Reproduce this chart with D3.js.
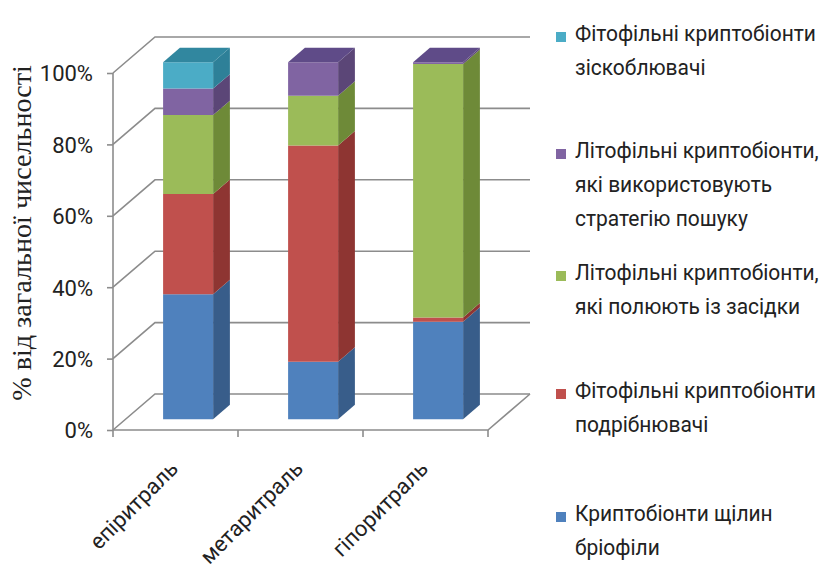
<!DOCTYPE html>
<html>
<head>
<meta charset="utf-8">
<script src="https://cdn.jsdelivr.net/npm/d3@7"></script>
<style>
  html, body { margin: 0; padding: 0; background: #fff; }
  svg { display: block; }
  .axis-title { font-family: "Liberation Serif", "DejaVu Serif", "Noto Serif", "Times New Roman", serif; }
</style>
</head>
<body>
<svg id="chart" width="834" height="574"></svg>
<script>
// Zones of the stream and share of each cryptobiont group (% of total abundance)
const categories = ["епіритраль", "метаритраль", "гіпоритраль"];
const bryophiles = [35.0, 16.1, 27.3];   // Криптобіонти щілин бріофіли
const shredders  = [28.1, 60.6, 1.2];    // Фітофільні криптобіонти подрібнювачі
const ambush     = [22.1, 13.9, 71.0];   // Літофільні криптобіонти, які полюють із засідки
const searching  = [7.4, 9.4, 0.5];      // Літофільні криптобіонти, які використовують стратегію пошуку
const scrapers   = [7.4, 0.0, 0.0];      // Фітофільні криптобіонти зіскоблювачі
const yTicks = [0, 20, 40, 60, 80, 100];

const seriesLabels = [
  ["Криптобіонти щілин", "бріофіли"],
  ["Фітофільні криптобіонти", "подрібнювачі"],
  ["Літофільні криптобіонти,", "які полюють із засідки"],
  ["Літофільні криптобіонти,", "які використовують", "стратегію пошуку"],
  ["Фітофільні криптобіонти", "зіскоблювачі"]
];
const seriesValues = [bryophiles, shredders, ambush, searching, scrapers];
const palette = [
  { front: "#4F81BD", side: "#385D8A", top: "#3D6699" },
  { front: "#C0504D", side: "#8E3532", top: "#9E3D3A" },
  { front: "#9BBB59", side: "#6E8A38", top: "#7E9C45" },
  { front: "#8064A2", side: "#5B4677", top: "#5F4B88" },
  { front: "#4BACC6", side: "#2E8098", top: "#31879F" }
];

const svg = d3.select("#chart");
const sans = "Roboto, 'Open Sans', 'Noto Sans', sans-serif";
const textColor = "#222";

// Front plane scales; depth is projected as an oblique offset
const x = d3.scaleBand().domain(categories).range([113, 488])
  .paddingInner(0.6).paddingOuter(0.3);
const y = d3.scaleLinear().domain([0, 100]).range([430, 73]);
const DX = 42, DY = -36;
const proj = (px, v, d) => [px + d * DX, y(v) + d * DY];
const gridColor = "#8c8c8c";

// Walls and floor
const grid = svg.append("g").attr("fill", "none").attr("stroke", gridColor).attr("stroke-width", 1.6);
const x0 = x.range()[0], x1 = x.range()[1];
yTicks.forEach(v => {
  grid.append("path").attr("d", d3.line()([proj(x0, v, 0), proj(x0, v, 1), proj(x1, v, 1)]));
});
grid.append("path").attr("d", d3.line()([proj(x0, 0, 0), proj(x1, 0, 0), proj(x1, 0, 1)]));

// Value axis on the front left edge
const yAxis = svg.append("g").attr("transform", `translate(${x0},0)`)
  .call(d3.axisLeft(y).tickValues(yTicks).tickSize(6).tickPadding(14).tickFormat(d => d + "%"));
yAxis.selectAll("path, line").attr("stroke", gridColor).attr("stroke-width", 1.6);
yAxis.select(".domain").attr("d", `M-0,${y(100)}V${y(0)}`);
yAxis.selectAll("text").attr("font-family", sans).attr("font-size", 22).attr("fill", textColor).attr("dy", "0.36em");

// Category axis with ticks at band boundaries
const step = x.step();
svg.append("g").selectAll("line").data(d3.range(categories.length + 1)).join("line")
  .attr("x1", i => x0 + i * step).attr("x2", i => x0 + i * step)
  .attr("y1", y(0)).attr("y2", y(0) + 7)
  .attr("stroke", gridColor).attr("stroke-width", 1.6);
svg.append("g").selectAll("text").data(categories).join("text")
  .attr("transform", d => `translate(${x(d) + x.bandwidth() / 2 + 4},${y(0) + 40}) rotate(-45)`)
  .attr("text-anchor", "end")
  .attr("font-family", sans).attr("font-size", 22).attr("fill", textColor)
  .text(d => d);

// Stacked 3D columns
const d0 = 0.3, d1 = 0.7;
const bars = svg.append("g");
categories.forEach((cat, ci) => {
  const left = x(cat), right = x(cat) + x.bandwidth();
  let acc = 0;
  let topIdx = -1;
  seriesValues.forEach((vals, si) => { if (vals[ci] > 0) topIdx = si; });
  seriesValues.forEach((vals, si) => {
    const v = vals[ci];
    if (v <= 0) return;
    const lo = acc, hi = acc + v;
    acc = hi;
    const c = palette[si];
    // right side face
    bars.append("path").attr("fill", c.side)
      .attr("d", d3.line()([proj(right, lo, d0), proj(right, lo, d1), proj(right, hi, d1), proj(right, hi, d0)]) + "Z");
    // front face
    bars.append("path").attr("fill", c.front)
      .attr("d", d3.line()([proj(left, lo, d0), proj(right, lo, d0), proj(right, hi, d0), proj(left, hi, d0)]) + "Z");
    if (si === topIdx) {
      bars.append("path").attr("fill", c.top)
        .attr("d", d3.line()([proj(left, hi, d0), proj(right, hi, d0), proj(right, hi, d1), proj(left, hi, d1)]) + "Z");
    }
  });
});

// Value axis title, sized to span the axis height
const title = svg.append("text")
  .attr("class", "axis-title")
  .attr("transform", `translate(31,233) rotate(-90)`)
  .attr("text-anchor", "middle")
  .style("font-size", "24px").attr("fill", textColor)
  .text("% від загальної чисельності");
const tLen = title.node().getComputedTextLength();
if (tLen > 0) title.style("font-size", (24 * 336 / tLen) + "px");

// Legend, top entry first
const legendRows = [
  { s: 4, y: 37 },
  { s: 3, y: 154 },
  { s: 2, y: 276 },
  { s: 1, y: 394 },
  { s: 0, y: 517 }
];
const legend = svg.append("g");
const legendText = legend.append("g");
legendRows.forEach(r => {
  legend.append("rect").attr("x", 556).attr("y", r.y - 5).attr("width", 10).attr("height", 10)
    .attr("fill", palette[r.s].front);
  seriesLabels[r.s].forEach((line, li) => {
    legendText.append("text")
      .attr("x", 0).attr("y", r.y - 4 + li * 34)
      .attr("dy", "0.36em")
      .attr("font-family", sans).attr("font-size", 22).attr("fill", textColor)
      .text(line);
  });
});
// narrow the legend lines to the column width beside the plot
const refW = legendText.select("text").node().getComputedTextLength();
const k = refW > 0 ? Math.min(1, 241 / refW) : 1;
legendText.attr("transform", `translate(575,0) scale(${k},1)`);
</script>
</body>
</html>
